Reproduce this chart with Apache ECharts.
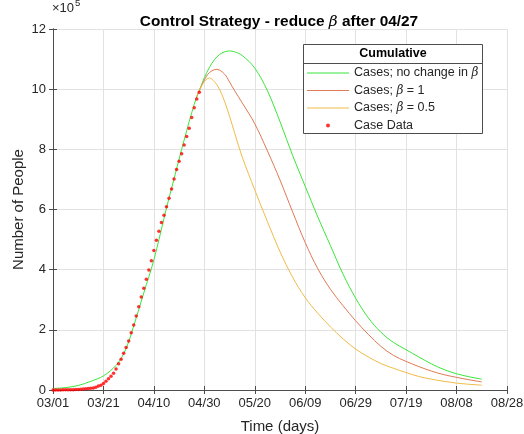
<!DOCTYPE html>
<html>
<head>
<meta charset="utf-8">
<script src="https://cdn.jsdelivr.net/npm/echarts@6/dist/echarts.min.js"></script>
<style>
html,body{margin:0;padding:0;background:#fff;}
#chart{width:524px;height:434px;}
</style>
</head>
<body>
<div id="chart"></div>
<script>
// ---- data (values in units of 10^5 people, days since 03/01) ----
const tickLabels = ['03/01','03/21','04/10','04/30','05/20','06/09','06/29','07/19','08/08','08/28'];
const yTicks = [0, 2, 4, 6, 8, 10, 12];

// Case data: one value per day starting 03/01
const caseValues = [0,0,0,0,0.005,0.005,0.01,0.01,0.01,0.015,0.02,0.025,0.03,0.04,0.05,
  0.06,0.07,0.09,0.13,0.16,0.22,0.29,0.37,0.46,0.56,0.70,0.87,1.02,1.22,1.41,1.63,1.90,
  2.16,2.46,2.77,3.09,3.38,3.68,3.99,4.30,4.64,4.98,5.28,5.57,5.81,6.09,6.37,6.68,7.01,
  7.33,7.60,7.85,8.14,8.43,8.70,9.06,9.38,9.67,9.90];

const noChangeDays = [0,5,10,15,20,25,28,30,31,33,35,37,39,41,43,45,47,49,51,53,55,57,58,60,62,64,66,68,70,72,75,80,85,90,95,100,105,110,115,120,125,130,135,140,145,150,155,160,165,170];
const noChangeValues = [0.05,0.08,0.15,0.29,0.47,0.82,1.2,1.6,1.86,2.4,2.95,3.5,4.03,4.65,5.35,6.05,6.7,7.35,8.0,8.62,9.22,9.75,9.95,10.38,10.72,10.98,11.15,11.24,11.27,11.24,11.12,10.7,9.95,8.92,7.8,6.77,5.75,4.8,3.85,3.05,2.4,1.92,1.58,1.34,1.1,0.87,0.68,0.54,0.44,0.36];

const beta1Days = [57,58,60,62,65,68,70,72,75,80,85,90,95,100,105,110,115,120,125,130,135,140,145,150,155,160,165,170];
const beta1Values = [9.75,9.95,10.3,10.55,10.66,10.5,10.24,9.95,9.55,8.85,7.95,6.98,5.92,4.9,4.03,3.35,2.8,2.3,1.85,1.45,1.15,0.95,0.78,0.63,0.51,0.42,0.34,0.27];

const beta05Days = [57,58,60,62,64,66,68,70,72,75,80,85,90,95,100,105,110,115,120,125,130,135,140,145,150,155,160,165,170];
const beta05Values = [9.75,9.95,10.25,10.37,10.25,10.0,9.6,9.1,8.55,7.75,6.65,5.6,4.6,3.75,3.07,2.55,2.1,1.7,1.36,1.1,0.88,0.72,0.58,0.45,0.36,0.29,0.23,0.19,0.16];

const seriesNames = ['Cases; no change in β', 'Cases; β = 1', 'Cases; β = 0.5', 'Case Data'];

// ---- chart ----
const pair = (xs, ys) => xs.map((x, i) => [x, ys[i]]);
const FONT = 'Liberation Sans, Arial, Helvetica, sans-serif';
const TXT = '#262626';
const AX = '#4d4d4d';
const GRID = '#e2e2e2';
const COLORS = ['#3ae63a', '#e07a55', '#f0bb48', '#ff0000'];
const betaRich = {b: {fontFamily: 'DejaVu Serif', fontStyle: 'italic', fontSize: 12, color: TXT}};
const lineIcon = 'path://M0,0H42V1H0Z';

const chart = echarts.init(document.getElementById('chart'), null, {renderer: 'canvas'});
const axisCommon = {
  axisLine: {show: true, lineStyle: {color: AX, width: 1}},
  axisTick: {show: true, inside: true, length: 4, lineStyle: {color: AX}},
};
chart.setOption({
  animation: false,
  backgroundColor: '#fff',
  textStyle: {fontFamily: FONT},
  title: {
    text: 'Control Strategy - reduce {b|β} after 04/27',
    left: 274, top: 9, textAlign: 'center',
    textStyle: {
      fontFamily: FONT, fontSize: 15.4, fontWeight: 'bold', color: '#000',
      rich: {b: {fontFamily: 'DejaVu Serif', fontStyle: 'italic', fontWeight: 'normal', fontSize: 15.4, color: '#000'}}
    }
  },
  grid: {left: 53, right: 17, top: 29, bottom: 44, containLabel: false, outerBoundsMode: 'none'},
  xAxis: [{
    type: 'value', min: 0, max: 180, interval: 20,
    ...axisCommon,
    axisLabel: {
      color: TXT, fontSize: 13, fontFamily: FONT, margin: 7,
      showMinLabel: true, showMaxLabel: true,
      formatter: v => tickLabels[Math.round(v / 20)]
    },
    splitLine: {show: true, lineStyle: {color: GRID, width: 1}},
    name: 'Time (days)', nameLocation: 'middle', nameGap: 29,
    nameTextStyle: {color: TXT, fontSize: 15, fontFamily: FONT}
  }, {
    type: 'value', min: 0, max: 180, interval: 20, position: 'top',
    ...axisCommon,
    axisLabel: {show: false}, splitLine: {show: false}
  }],
  yAxis: [{
    type: 'value', min: 0, max: 12, interval: 2,
    ...axisCommon,
    axisLabel: {color: TXT, fontSize: 13, fontFamily: FONT, margin: 7,
      formatter: v => String(yTicks[Math.round(v / 2)])},
    splitLine: {show: true, lineStyle: {color: GRID, width: 1}},
    name: 'Number of People', nameLocation: 'middle', nameGap: 27, nameMoveOverlap: false,
    nameTextStyle: {color: TXT, fontSize: 15, fontFamily: FONT}
  }, {
    type: 'value', min: 0, max: 12, interval: 2, position: 'right',
    ...axisCommon,
    axisLabel: {show: false}, splitLine: {show: false}
  }],
  legend: {
    orient: 'vertical', left: 307, top: 66, padding: 0,
    itemWidth: 42, itemHeight: 4, itemGap: 3.5, z: 10,
    data: [
      {name: seriesNames[0], icon: lineIcon},
      {name: seriesNames[1], icon: lineIcon},
      {name: seriesNames[2], icon: lineIcon},
      {name: seriesNames[3], icon: 'circle'}
    ],
    textStyle: {fontSize: 12.5, color: TXT, fontFamily: FONT, lineHeight: 14, rich: betaRich},
    formatter: n => n.replace('β', '{b|β}')
  },
  graphic: [
    {type: 'rect', z: 5, shape: {x: 303.5, y: 44.5, width: 179, height: 89},
      style: {fill: '#fff', stroke: AX, lineWidth: 1}},
    {type: 'line', z: 6, shape: {x1: 303.5, y1: 63.5, x2: 482.5, y2: 63.5},
      style: {stroke: AX, lineWidth: 1}},
    {type: 'text', z: 6, x: 393, y: 54,
      style: {text: 'Cumulative', fontFamily: FONT, fontSize: 12.5, fontWeight: 'bold', fill: '#000',
        textAlign: 'center', textVerticalAlign: 'middle'}},
    {type: 'text', z: 6, x: 52, y: 8,
      style: {text: '×10', fontFamily: FONT, fontSize: 13, fill: TXT, textAlign: 'left', textVerticalAlign: 'middle'}},
    {type: 'text', z: 6, x: 75, y: 3.5,
      style: {text: '5', fontFamily: FONT, fontSize: 9.5, fill: TXT, textAlign: 'left', textVerticalAlign: 'middle'}}
  ],
  series: [
    {name: seriesNames[0], type: 'line', data: pair(noChangeDays, noChangeValues),
      symbol: 'none', smooth: 0.35, lineStyle: {color: COLORS[0], width: 1}, itemStyle: {color: COLORS[0]}, z: 2},
    {name: seriesNames[1], type: 'line', data: pair(beta1Days, beta1Values),
      symbol: 'none', smooth: 0.35, lineStyle: {color: COLORS[1], width: 1}, itemStyle: {color: COLORS[1]}, z: 2},
    {name: seriesNames[2], type: 'line', data: pair(beta05Days, beta05Values),
      symbol: 'none', smooth: 0.35, lineStyle: {color: COLORS[2], width: 1}, itemStyle: {color: COLORS[2]}, z: 2},
    {name: seriesNames[3], type: 'scatter', data: caseValues.map((v, i) => [i, v]),
      symbol: 'circle', symbolSize: 3.5, itemStyle: {color: COLORS[3]}, z: 3}
  ]
});
</script>
</body>
</html>
